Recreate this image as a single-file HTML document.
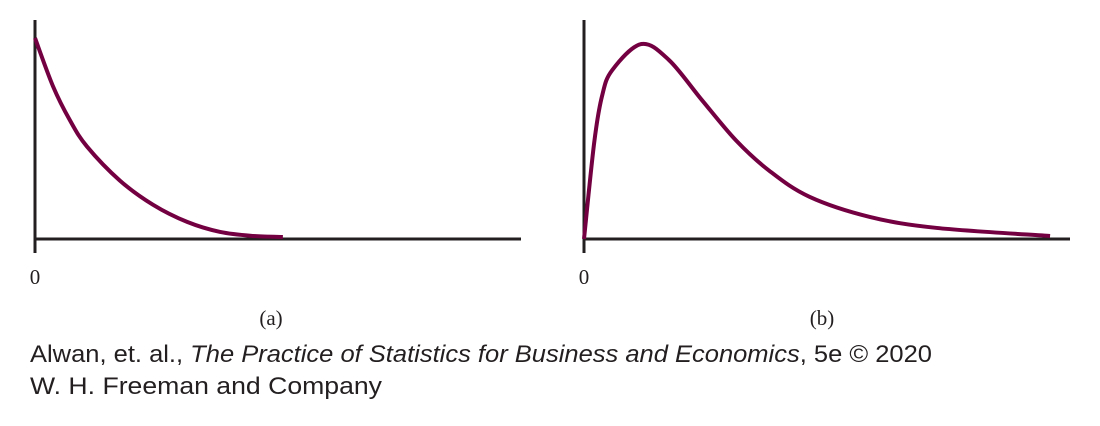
<!DOCTYPE html>
<html><head><meta charset="utf-8"><style>
html,body{margin:0;padding:0;background:#fff;}
svg{display:block}
</style></head><body>
<svg width="1100" height="426" viewBox="0 0 1100 426" id="chart">
<rect width="1100" height="426" fill="#fff"/>
<g id="pa"></g>
<g id="pb"></g>
<text x="35" y="284" font-family="Liberation Serif, serif" font-size="21" text-anchor="middle" fill="#231f20">0</text>
<text x="584" y="284" font-family="Liberation Serif, serif" font-size="21" text-anchor="middle" fill="#231f20">0</text>
<text x="271" y="325" font-family="Liberation Serif, serif" font-size="21" text-anchor="middle" fill="#231f20">(a)</text>
<text x="822" y="325" font-family="Liberation Serif, serif" font-size="21" text-anchor="middle" fill="#231f20">(b)</text>
<text x="30" y="362" font-family="Liberation Sans, sans-serif" font-size="24" fill="#231f20" textLength="902" lengthAdjust="spacingAndGlyphs">Alwan, et. al., <tspan font-style="italic">The Practice of Statistics for Business and Economics</tspan>, 5e © 2020</text>
<text x="30" y="394" font-family="Liberation Sans, sans-serif" font-size="24" fill="#231f20" textLength="352" lengthAdjust="spacingAndGlyphs">W. H. Freeman and Company</text>
</svg>
<script>
const aX=[0,3.7,7.2,10.7,17.5,24.3,31.3,38.1,44.9,51];
const aY=[100,76,59,46,29,17,8.5,3.5,1.5,1];
const bX=[0,2.1,3.7,5.8,11.8,17.5,24.3,31.3,38.1,46.4,58.8,72.6,95.9];
const bY=[0,48,71,84,97,89,69,49,34,21,11,5.5,1.5];
const NS='http://www.w3.org/2000/svg';
function spline(p){let d='M'+p[0][0]+','+p[0][1];
for(let i=0;i<p.length-1;i++){const p0=p[i-1]||p[i],p1=p[i],p2=p[i+1],p3=p[i+2]||p2;
const c1=[p1[0]+(p2[0]-p0[0])/6,p1[1]+(p2[1]-p0[1])/6],c2=[p2[0]-(p3[0]-p1[0])/6,p2[1]-(p3[1]-p1[1])/6];
d+=' C'+c1+' '+c2+' '+p2;}return d;}
function panel(g,x0,xs,ys,name){
const sx=v=>x0+v*4.86, sy=v=>239-v*2.01;
const ax=document.createElementNS(NS,'path');
ax.setAttribute('d',`M${x0},20 V253 M${x0},239 H${x0+486}`);
ax.setAttribute('stroke','#231f20');ax.setAttribute('stroke-width','3');ax.setAttribute('fill','none');


g.appendChild(ax);
const c=document.createElementNS(NS,'path');
c.setAttribute('d',spline(xs.map((v,i)=>[sx(v),sy(ys[i])])));
c.setAttribute('stroke','#730041');c.setAttribute('stroke-width','4');c.setAttribute('fill','none');


g.appendChild(c);}
panel(document.getElementById('pa'),35,aX,aY,'density-curve-a');
panel(document.getElementById('pb'),584,bX,bY,'density-curve-b');
</script>
</body></html>
